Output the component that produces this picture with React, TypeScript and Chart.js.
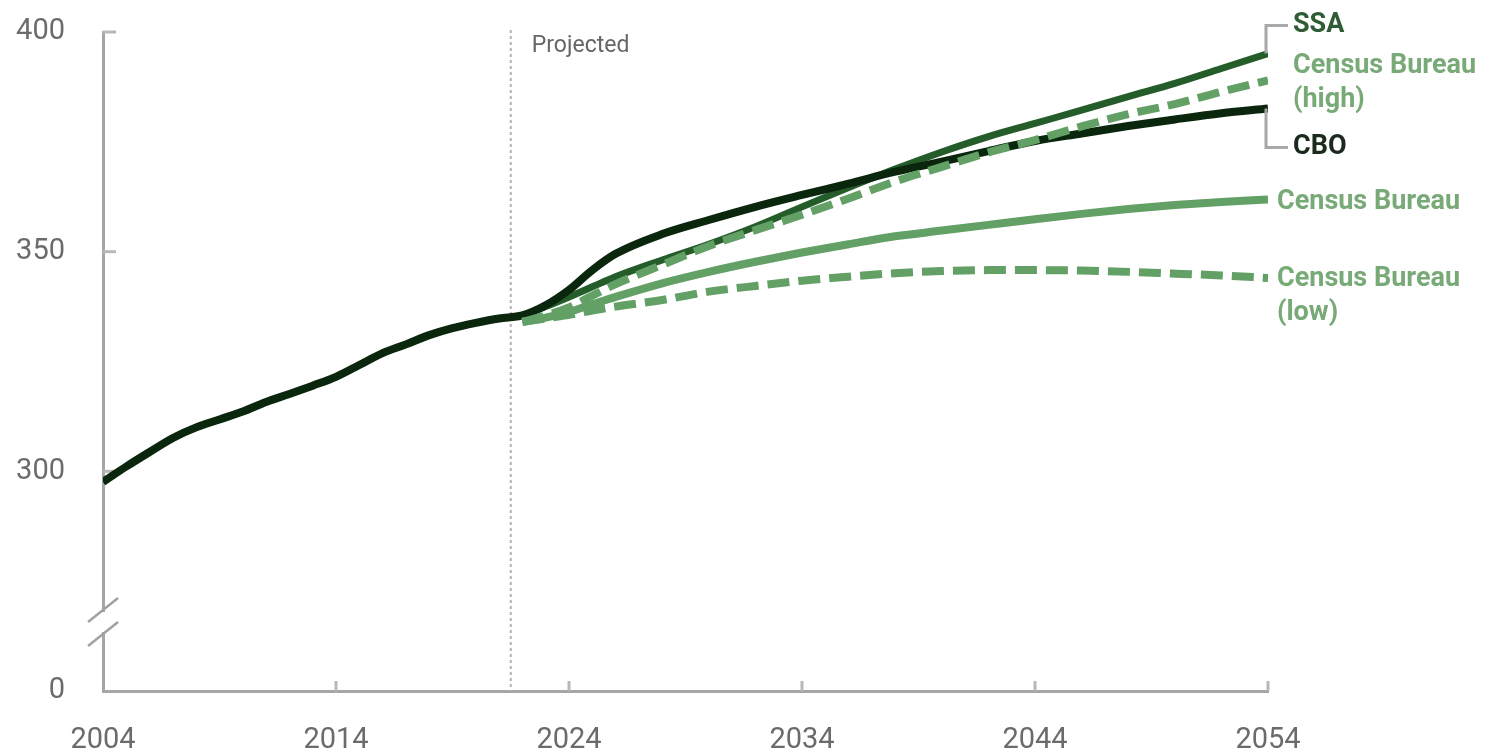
import React, { useEffect, useRef } from 'react';
import { Chart, registerables } from 'chart.js';

Chart.register(...registerables);

// ---------- data (millions of people) ----------
const historyYears = [2004, 2005, 2006, 2007, 2008, 2009, 2010, 2011, 2012, 2013, 2014, 2015, 2016, 2017, 2018, 2019, 2020, 2021, 2022];
const historyValues = [297.6, 301.1, 304.4, 307.6, 310.0, 311.8, 313.6, 315.8, 317.6, 319.5, 321.5, 324.2, 326.9, 328.9, 331.0, 332.6, 333.8, 334.8, 335.5];

const projectionYears = [2022, 2023, 2024, 2025, 2026, 2028, 2030, 2032, 2034, 2036, 2038, 2040, 2042, 2044, 2046, 2048, 2050, 2052, 2054];
const cboValues = [335.5, 337.8, 341.3, 345.8, 349.5, 354.0, 357.2, 360.2, 362.9, 365.5, 368.2, 370.5, 372.9, 375.2, 376.9, 378.6, 380.1, 381.5, 382.6];
const ssaValues = [335.5, 337.5, 339.7, 342.0, 344.3, 348.1, 351.7, 355.7, 360.2, 364.6, 368.8, 372.7, 376.2, 379.2, 382.2, 385.3, 388.3, 391.7, 395.1];
const censusHighValues = [334.0, 335.5, 337.3, 340.0, 342.6, 347.0, 351.3, 354.9, 358.4, 362.1, 366.0, 369.3, 372.6, 375.4, 378.5, 381.3, 383.6, 386.4, 389.0];
const censusValues = [334.0, 335.0, 336.3, 338.0, 339.7, 342.8, 345.4, 347.7, 349.8, 351.7, 353.5, 354.8, 356.1, 357.4, 358.6, 359.7, 360.6, 361.3, 361.9];
const censusLowValues = [334.0, 334.8, 335.6, 336.6, 337.5, 339.0, 340.9, 342.2, 343.4, 344.3, 345.1, 345.6, 345.8, 345.8, 345.7, 345.4, 345.0, 344.6, 344.0];

const xTickYears = [2004, 2014, 2024, 2034, 2044, 2054];
const yTickValues = [250, 300, 350, 400];
const yTickLabels = ['0', '300', '350', '400'];
const projectionStart = 2021.5;
const projectedLabel = 'Projected';

const seriesLabels = {
  ssa: ['SSA'],
  censusHigh: ['Census Bureau', '(high)'],
  cbo: ['CBO'],
  census: ['Census Bureau'],
  censusLow: ['Census Bureau', '(low)'],
};

// ---------- styles ----------
const COLOR_CBO = '#0a260d';
const COLOR_SSA = '#245c2a';
const COLOR_CENSUS = '#63a066';
const TEXT_SSA = '#2f5c33';
const TEXT_CENSUS = '#78aa78';
const TEXT_CBO = '#1a2a1d';
const AXIS = '#a6a6a6';
const TICK_TEXT = '#6b6b6b';

const pts = (xs: number[], ys: number[]) => xs.map((x, i) => ({ x, y: ys[i] }));

const annotatePlugin = {
  id: 'annotate',
  beforeDatasetsDraw(chart: any) {
    const { ctx, chartArea, scales } = chart;
    const x = scales.x;
    const y = scales.y;
    ctx.save();
    // inward ticks
    ctx.strokeStyle = '#b8b8b8';
    ctx.lineWidth = 3;
    yTickValues.forEach((v) => {
      if (v === y.min) return;
      const py = y.getPixelForValue(v);
      ctx.beginPath();
      ctx.moveTo(chartArea.left, py);
      ctx.lineTo(chartArea.left + 13, py);
      ctx.stroke();
    });
    xTickYears.forEach((yr) => {
      if (yr === x.min) return;
      const px = x.getPixelForValue(yr);
      ctx.beginPath();
      ctx.moveTo(px, chartArea.bottom);
      ctx.lineTo(px, chartArea.bottom - 10);
      ctx.stroke();
    });
    // projected divider
    const px = x.getPixelForValue(projectionStart);
    ctx.strokeStyle = '#b3b3b3';
    ctx.lineWidth = 2;
    ctx.setLineDash([3, 3]);
    ctx.beginPath();
    ctx.moveTo(px, chartArea.top - 2);
    ctx.lineTo(px, chartArea.bottom);
    ctx.stroke();
    ctx.setLineDash([]);
    ctx.fillStyle = '#666666';
    ctx.font = '23px Roboto';
    ctx.textAlign = 'left';
    ctx.textBaseline = 'middle';
    ctx.fillText(projectedLabel, px + 21, chartArea.top + 14);
    ctx.restore();
  },
  afterDraw(chart: any) {
    const { ctx, chartArea, scales } = chart;
    const x = scales.x;
    const y = scales.y;
    ctx.save();
    // axis break
    const ax = chartArea.left;
    const b1 = chartArea.bottom - 81;
    const b2 = chartArea.bottom - 57;
    ctx.fillStyle = '#ffffff';
    ctx.fillRect(ax - 3, b1 + 2, 6, b2 - b1 - 4);
    ctx.strokeStyle = '#a0a0a0';
    ctx.lineWidth = 2.5;
    [b1, b2].forEach((cy) => {
      ctx.beginPath();
      ctx.moveTo(ax - 15, cy + 12);
      ctx.lineTo(ax + 15, cy - 12);
      ctx.stroke();
    });

    // right-hand labels
    const xe = x.getPixelForValue(x.max);
    const last = (arr: number[]) => y.getPixelForValue(arr[arr.length - 1]);
    const ySSA = last(ssaValues);
    const yCBO = last(cboValues);
    const yHigh = last(censusHighValues);
    const yMid = last(censusValues);
    const yLow = last(censusLowValues);

    ctx.strokeStyle = '#a8a8a8';
    ctx.lineWidth = 3;
    ctx.beginPath();
    ctx.moveTo(xe - 2, ySSA);
    ctx.lineTo(xe - 2, ySSA - 28);
    ctx.lineTo(xe + 20, ySSA - 28);
    ctx.stroke();
    ctx.beginPath();
    ctx.moveTo(xe - 2, yCBO);
    ctx.lineTo(xe - 2, yCBO + 39);
    ctx.lineTo(xe + 20, yCBO + 39);
    ctx.stroke();

    ctx.font = 'bold 27px Roboto';
    ctx.textAlign = 'left';
    ctx.textBaseline = 'middle';
    const lh = 34;
    const put = (lines: string[], color: string, tx: number, ty: number) => {
      ctx.fillStyle = color;
      lines.forEach((t, i) => ctx.fillText(t, tx, ty + i * lh));
    };
    put(seriesLabels.ssa, TEXT_SSA, xe + 25, ySSA - 28);
    put(seriesLabels.censusHigh, TEXT_CENSUS, xe + 25, yHigh - 14);
    put(seriesLabels.cbo, TEXT_CBO, xe + 25, yCBO + 39);
    put(seriesLabels.census, TEXT_CENSUS, xe + 9, yMid + 3);
    put(seriesLabels.censusLow, TEXT_CENSUS, xe + 9, yLow + 1);
    ctx.restore();
  },
};

export default function App() {
  const canvasRef = useRef<HTMLCanvasElement | null>(null);

  useEffect(() => {
    const canvas = canvasRef.current;
    if (!canvas) return;
    Chart.defaults.font.family = 'Roboto';

    const blackLine = pts(historyYears, historyValues).concat(pts(projectionYears.slice(1), cboValues.slice(1)));

    const chart = new Chart(canvas, {
      type: 'line',
      data: {
        datasets: [
          {
            label: 'Census Bureau (high)',
            data: pts(projectionYears, censusHighValues),
            borderColor: COLOR_CENSUS,
            borderWidth: 8,
            borderDash: [22, 9],
            order: 1,
          },
          {
            label: 'Census Bureau (low)',
            data: pts(projectionYears, censusLowValues),
            borderColor: COLOR_CENSUS,
            borderWidth: 8,
            borderDash: [22, 9],
            order: 2,
          },
          {
            label: 'Census Bureau',
            data: pts(projectionYears, censusValues),
            borderColor: COLOR_CENSUS,
            borderWidth: 8,
            order: 3,
          },
          {
            label: 'CBO',
            data: blackLine,
            borderColor: COLOR_CBO,
            borderWidth: 8,
            order: 4,
          },
          {
            label: 'SSA',
            data: pts(projectionYears, ssaValues),
            borderColor: COLOR_SSA,
            borderWidth: 7,
            order: 5,
          },
        ] as any,
      },
      options: {
        responsive: false,
        animation: false,
        parsing: true,
        layout: { padding: { left: 0, right: 228, top: 32, bottom: 0 } },
        elements: {
          point: { radius: 0, hoverRadius: 0 },
          line: { cubicInterpolationMode: 'monotone', borderCapStyle: 'butt', fill: false },
        },
        plugins: {
          legend: { display: false },
          tooltip: { enabled: false },
          title: { display: false },
        },
        scales: {
          x: {
            type: 'linear',
            min: 2004,
            max: 2054,
            afterBuildTicks: (scale: any) => {
              scale.ticks = xTickYears.map((v) => ({ value: v }));
            },
            afterFit: (scale: any) => {
              scale.height = 63;
              scale.paddingLeft = 0;
              scale.paddingRight = 0;
            },
            grid: { display: false, drawTicks: false },
            border: { display: true, color: AXIS, width: 3 },
            ticks: {
              color: TICK_TEXT,
              font: { size: 29, family: 'Roboto' },
              padding: 32,
              maxRotation: 0,
              autoSkip: false,
              callback: (v: any) => String(v),
            },
          },
          y: {
            type: 'linear',
            min: 250,
            max: 400,
            afterBuildTicks: (scale: any) => {
              scale.ticks = yTickValues.map((v) => ({ value: v }));
            },
            afterFit: (scale: any) => {
              scale.width = 103;
              scale.paddingTop = 0;
              scale.paddingBottom = 0;
            },
            grid: { display: false, drawTicks: false },
            border: { display: true, color: AXIS, width: 3 },
            ticks: {
              color: TICK_TEXT,
              font: { size: 29, family: 'Roboto' },
              padding: 38,
              autoSkip: false,
              callback: (v: any) => {
                const i = yTickValues.indexOf(Number(v));
                return i >= 0 ? yTickLabels[i] : '';
              },
            },
          },
        },
      } as any,
      plugins: [annotatePlugin],
    });
    return () => chart.destroy();
  }, []);

  return (
    <div style={{ position: 'fixed', left: 0, top: 0, width: 1496, height: 754, background: '#ffffff' }}>
      <canvas ref={canvasRef} width={1496} height={754} style={{ width: 1496, height: 754, display: 'block' }} />
    </div>
  );
}
